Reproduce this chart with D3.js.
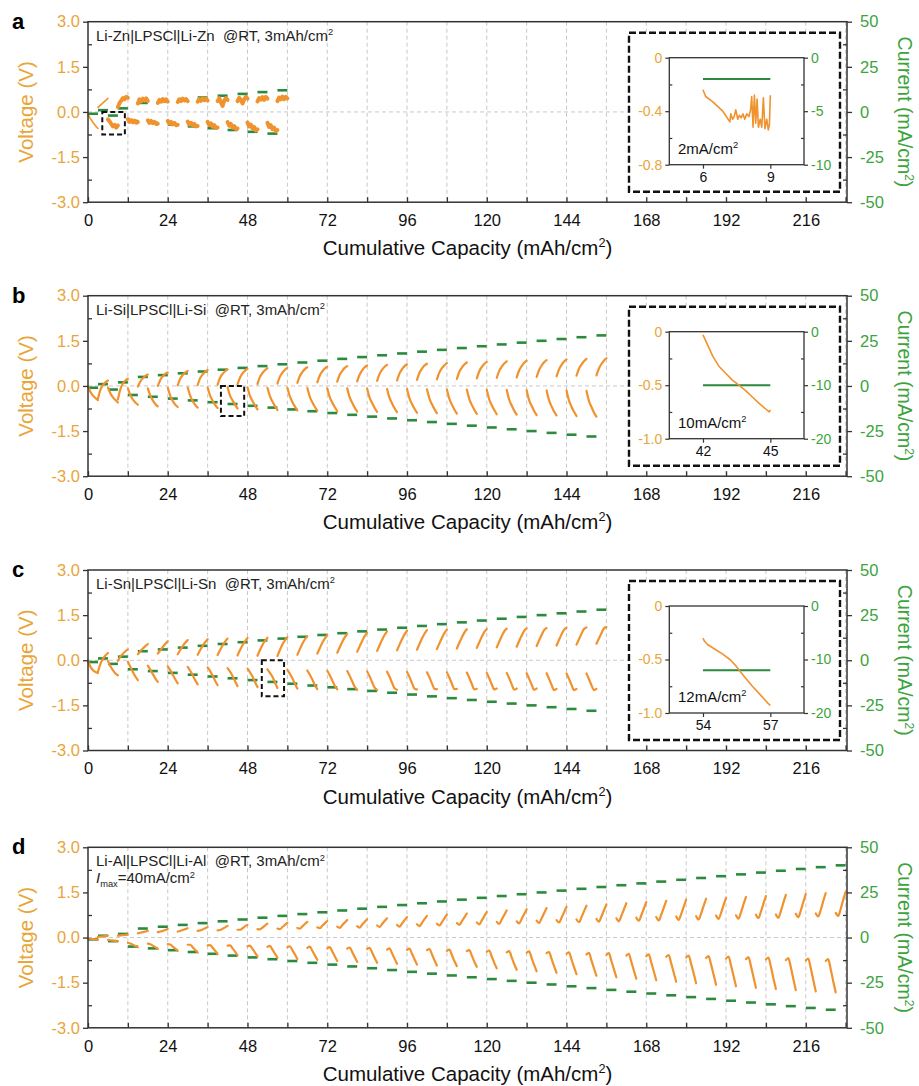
<!DOCTYPE html>
<html><head><meta charset="utf-8">
<script src="https://cdn.jsdelivr.net/npm/d3@7"></script>
<style>body{margin:0;background:#fff;} svg{display:block;font-family:"Liberation Sans",Arial,sans-serif;}</style>
</head><body><svg id="c" width="919" height="1086"></svg>
<script>
// ---------------- DATA ----------------
// current per cycle (mA/cm2); each cycle = discharge 3 mAh/cm2 then charge 3 mAh/cm2
const currents = [1,2,5,6,7,8,9,10,11,12,13,14,15,16,17,18,19,20,21,22,23,24,25,26,27,28,29,30,31,32,33,34,35,36,37,38,39,40];
const xTickLabels = [0,24,48,72,96,120,144,168,192,216];
const xGridValues = [12,24,36,48,60,72,84,96,108,120,132,144,156,168,180,192,204,216,228];
const vTicks = [3,1.5,0,-1.5,-3];
const vMinor = [2.25,0.75,-0.75,-2.25];
const iTicks = [50,25,0,-25,-50];
const iMinor = [37.5,12.5,-12.5,-37.5];

// voltage samples per half cycle (V), evenly spaced over the 3 mAh/cm2 step
const aDischarge = [
 [-0.08,-0.18,-0.27,-0.35,-0.42,-0.49,-0.55],
 [-0.25,-0.31,-0.4,-0.48,-0.43,-0.52,-0.45],
 [-0.24,-0.33,-0.27,-0.34,-0.29,-0.36,-0.34],
 [-0.28,-0.36,-0.3,-0.37,-0.33,-0.4,-0.39],
 [-0.3,-0.39,-0.33,-0.41,-0.36,-0.44,-0.43],
 [-0.32,-0.42,-0.36,-0.45,-0.4,-0.48,-0.47],
 [-0.33,-0.44,-0.38,-0.49,-0.44,-0.53,-0.52],
 [-0.34,-0.46,-0.4,-0.52,-0.47,-0.57,-0.55],
 [-0.35,-0.48,-0.42,-0.55,-0.5,-0.61,-0.58],
 [-0.36,-0.5,-0.44,-0.57,-0.52,-0.64,-0.6]
];
const aCharge = [
 [0.15,0.2,0.25,0.3,0.35,0.4,0.45],
 [0.16,0.3,0.38,0.46,0.42,0.5,0.47],
 [0.28,0.42,0.35,0.44,0.38,0.45,0.36],
 [0.3,0.4,0.34,0.43,0.36,0.42,0.34],
 [0.33,0.42,0.36,0.44,0.38,0.43,0.36],
 [0.34,0.43,0.37,0.45,0.39,0.44,0.38],
 [0.36,0.46,0.32,0.2,0.38,0.46,0.4],
 [0.36,0.47,0.4,0.28,0.42,0.5,0.44],
 [0.35,0.46,0.41,0.49,0.4,0.5,0.44],
 [0.36,0.48,0.42,0.51,0.42,0.5,0.45]
];
const bDischarge = [
 [-0.02,-0.2,-0.32,-0.4,-0.47],[-0.05,-0.25,-0.38,-0.47,-0.55],[-0.08,-0.3,-0.45,-0.55,-0.62],
 [-0.08,-0.32,-0.48,-0.6,-0.68],[-0.06,-0.32,-0.5,-0.62,-0.7],[-0.05,-0.32,-0.5,-0.63,-0.72],
 [-0.05,-0.32,-0.49,-0.63,-0.73],[-0.04,-0.32,-0.48,-0.62,-0.75],[-0.05,-0.33,-0.5,-0.65,-0.78],
 [-0.06,-0.34,-0.52,-0.67,-0.8],[-0.06,-0.35,-0.53,-0.68,-0.81],[-0.07,-0.36,-0.54,-0.69,-0.82],
 [-0.08,-0.37,-0.55,-0.7,-0.84],[-0.08,-0.38,-0.56,-0.72,-0.85],[-0.09,-0.39,-0.57,-0.73,-0.86],
 [-0.1,-0.4,-0.58,-0.74,-0.87],[-0.1,-0.41,-0.6,-0.76,-0.89],[-0.11,-0.42,-0.61,-0.77,-0.9],
 [-0.12,-0.43,-0.62,-0.78,-0.92],[-0.12,-0.44,-0.63,-0.79,-0.93],[-0.13,-0.45,-0.64,-0.8,-0.94],
 [-0.13,-0.46,-0.65,-0.82,-0.95],[-0.14,-0.47,-0.66,-0.83,-0.97],[-0.15,-0.48,-0.68,-0.85,-0.98],
 [-0.15,-0.49,-0.69,-0.86,-1.0],[-0.16,-0.5,-0.7,-0.88,-1.02]
];
const bCharge = [
 [-0.42,-0.12,0.03,0.12,0.18],[-0.45,-0.1,0.08,0.18,0.24],[-0.02,0.15,0.26,0.33,0.38],
 [0.0,0.2,0.32,0.4,0.45],[0.02,0.24,0.36,0.44,0.5],[0.03,0.26,0.38,0.47,0.53],
 [0.04,0.27,0.4,0.49,0.55],[0.05,0.28,0.42,0.51,0.57],[0.06,0.3,0.43,0.52,0.59],
 [0.08,0.31,0.44,0.54,0.6],[0.1,0.33,0.46,0.56,0.62],[0.12,0.35,0.48,0.58,0.64],
 [0.14,0.37,0.5,0.6,0.66],[0.15,0.38,0.52,0.62,0.68],[0.17,0.4,0.54,0.64,0.7],
 [0.18,0.42,0.56,0.66,0.72],[0.2,0.44,0.58,0.68,0.74],[0.22,0.45,0.59,0.69,0.76],
 [0.23,0.47,0.61,0.71,0.78],[0.25,0.49,0.63,0.73,0.8],[0.27,0.5,0.64,0.75,0.82],
 [0.28,0.52,0.66,0.77,0.84],[0.3,0.53,0.68,0.79,0.86],[0.32,0.55,0.7,0.81,0.88],
 [0.34,0.57,0.71,0.82,0.9],[0.35,0.58,0.73,0.84,0.92]
];
const cDischarge = [
 [-0.02,-0.22,-0.33,-0.39,-0.42],[-0.02,-0.2,-0.33,-0.44,-0.5],[-0.05,-0.22,-0.39,-0.54,-0.66],
 [-0.18,-0.31,-0.46,-0.6,-0.72],[-0.2,-0.33,-0.48,-0.63,-0.77],[-0.22,-0.35,-0.5,-0.66,-0.8],
 [-0.24,-0.36,-0.51,-0.68,-0.83],[-0.26,-0.38,-0.52,-0.7,-0.86],[-0.28,-0.4,-0.54,-0.72,-0.89],
 [-0.3,-0.42,-0.55,-0.74,-0.92],[-0.32,-0.45,-0.6,-0.78,-0.94],[-0.34,-0.48,-0.64,-0.82,-0.96],
 [-0.35,-0.5,-0.67,-0.85,-0.97],[-0.36,-0.52,-0.7,-0.88,-0.98],[-0.37,-0.54,-0.73,-0.91,-0.99],
 [-0.38,-0.55,-0.75,-0.93,-0.98],[-0.39,-0.56,-0.76,-0.94,-0.97],[-0.4,-0.57,-0.77,-0.95,-0.96],
 [-0.4,-0.58,-0.78,-0.96,-0.95],[-0.41,-0.59,-0.79,-0.97,-0.95],[-0.42,-0.6,-0.8,-0.97,-0.94],
 [-0.42,-0.6,-0.8,-0.98,-0.94],[-0.43,-0.61,-0.81,-0.98,-0.94],[-0.43,-0.62,-0.82,-0.99,-0.95],
 [-0.44,-0.62,-0.82,-0.99,-0.95],[-0.44,-0.63,-0.83,-0.99,-0.95]
];
const cCharge = [
 [-0.38,-0.12,0.05,0.16,0.24],[-0.02,0.12,0.22,0.3,0.36],[0.2,0.3,0.39,0.47,0.54],
 [0.22,0.33,0.44,0.54,0.63],[0.2,0.34,0.47,0.58,0.67],[0.18,0.34,0.48,0.6,0.7],
 [0.17,0.34,0.49,0.62,0.72],[0.16,0.34,0.5,0.63,0.74],[0.15,0.34,0.51,0.64,0.75],
 [0.14,0.34,0.52,0.66,0.77],[0.18,0.37,0.55,0.69,0.8],[0.22,0.4,0.58,0.72,0.84],
 [0.25,0.43,0.61,0.76,0.88],[0.28,0.46,0.64,0.8,0.92],[0.31,0.5,0.68,0.84,0.96],
 [0.33,0.52,0.7,0.86,0.98],[0.35,0.54,0.72,0.88,1.0],[0.37,0.56,0.74,0.9,1.02],
 [0.39,0.58,0.76,0.92,1.03],[0.41,0.6,0.78,0.94,1.04],[0.43,0.62,0.8,0.96,1.05],
 [0.45,0.64,0.82,0.98,1.06],[0.47,0.66,0.84,1.0,1.07],[0.49,0.68,0.86,1.02,1.08],
 [0.52,0.7,0.88,1.04,1.09],[0.55,0.72,0.9,1.06,1.1]
];
const dDischarge = [
 [-0.03,-0.04,-0.05,-0.06,-0.07],[-0.08,-0.09,-0.1,-0.11,-0.12],[-0.18,-0.2,-0.24,-0.28,-0.32],
 [-0.2,-0.22,-0.27,-0.32,-0.38],[-0.22,-0.23,-0.3,-0.37,-0.44],[-0.24,-0.24,-0.32,-0.41,-0.5],
 [-0.26,-0.25,-0.34,-0.44,-0.55],[-0.27,-0.26,-0.36,-0.47,-0.59],[-0.29,-0.27,-0.38,-0.5,-0.63],
 [-0.31,-0.28,-0.4,-0.53,-0.67],[-0.32,-0.29,-0.42,-0.56,-0.71],[-0.34,-0.3,-0.44,-0.59,-0.74],
 [-0.36,-0.32,-0.46,-0.62,-0.78],[-0.37,-0.33,-0.48,-0.65,-0.81],[-0.38,-0.34,-0.5,-0.67,-0.84],
 [-0.4,-0.36,-0.52,-0.7,-0.87],[-0.41,-0.37,-0.54,-0.72,-0.9],[-0.42,-0.38,-0.56,-0.75,-0.93],
 [-0.44,-0.4,-0.58,-0.78,-0.95],[-0.45,-0.42,-0.6,-0.8,-0.97],[-0.47,-0.43,-0.63,-0.84,-1.02],
 [-0.49,-0.45,-0.66,-0.88,-1.07],[-0.5,-0.46,-0.68,-0.91,-1.12],[-0.52,-0.48,-0.71,-0.95,-1.17],
 [-0.54,-0.49,-0.73,-0.98,-1.22],[-0.56,-0.51,-0.76,-1.02,-1.27],[-0.58,-0.52,-0.78,-1.05,-1.32],
 [-0.6,-0.54,-0.81,-1.09,-1.37],[-0.62,-0.56,-0.83,-1.12,-1.42],[-0.64,-0.58,-0.86,-1.16,-1.47],
 [-0.66,-0.6,-0.88,-1.19,-1.52],[-0.68,-0.62,-0.9,-1.23,-1.57],[-0.7,-0.63,-0.93,-1.27,-1.62],
 [-0.72,-0.65,-0.95,-1.31,-1.67],[-0.73,-0.67,-0.97,-1.35,-1.71],[-0.75,-0.68,-0.99,-1.38,-1.75],
 [-0.76,-0.7,-1.02,-1.41,-1.79],[-0.78,-0.72,-1.05,-1.45,-1.82]
];
const dCharge = [
 [0.02,0.03,0.04,0.05,0.06],[0.06,0.07,0.08,0.09,0.1],[0.14,0.16,0.18,0.2,0.22],
 [0.18,0.2,0.22,0.25,0.28],[0.2,0.22,0.25,0.28,0.31],[0.22,0.24,0.27,0.31,0.35],
 [0.24,0.25,0.29,0.34,0.39],[0.26,0.26,0.31,0.37,0.42],[0.28,0.27,0.33,0.4,0.46],
 [0.3,0.28,0.35,0.42,0.49],[0.32,0.3,0.37,0.45,0.52],[0.34,0.31,0.39,0.47,0.55],
 [0.36,0.32,0.41,0.5,0.58],[0.38,0.33,0.43,0.52,0.61],[0.4,0.35,0.45,0.55,0.64],
 [0.42,0.36,0.47,0.58,0.68],[0.44,0.38,0.49,0.61,0.72],[0.46,0.4,0.51,0.64,0.76],
 [0.48,0.42,0.54,0.67,0.8],[0.5,0.44,0.57,0.71,0.85],[0.52,0.45,0.6,0.75,0.9],
 [0.54,0.47,0.62,0.78,0.94],[0.56,0.48,0.64,0.81,0.98],[0.58,0.5,0.66,0.84,1.02],
 [0.6,0.51,0.68,0.87,1.06],[0.62,0.53,0.7,0.9,1.1],[0.64,0.54,0.72,0.93,1.14],
 [0.66,0.56,0.74,0.96,1.18],[0.68,0.57,0.76,0.99,1.22],[0.7,0.59,0.78,1.02,1.26],
 [0.71,0.6,0.8,1.05,1.29],[0.73,0.62,0.82,1.08,1.32],[0.74,0.63,0.84,1.1,1.35],
 [0.76,0.65,0.86,1.13,1.38],[0.77,0.66,0.88,1.16,1.42],[0.79,0.68,0.9,1.18,1.45],
 [0.8,0.7,0.92,1.21,1.48],[0.82,0.72,0.95,1.25,1.52]
];

// insets: zoomed discharge step [capacity, voltage]
const insetAVoltage = [[6,-0.24],[6.12,-0.29],[6.44,-0.33],[6.88,-0.4],[7.2,-0.48],[7.24,-0.42],[7.32,-0.46],[7.39,-0.44],[7.46,-0.39],[7.55,-0.46],[7.62,-0.43],[7.7,-0.45],[7.78,-0.42],[7.86,-0.46],[7.95,-0.42],[8.05,-0.44],[8.12,-0.39],[8.17,-0.29],[8.23,-0.52],[8.29,-0.28],[8.35,-0.49],[8.41,-0.31],[8.47,-0.52],[8.55,-0.46],[8.62,-0.52],[8.69,-0.3],[8.76,-0.53],[8.84,-0.46],[8.91,-0.54],[8.96,-0.5],[9,-0.28]];
const insetBVoltage = [[42,-0.03],[42.2,-0.12],[42.44,-0.23],[42.7,-0.32],[43.02,-0.39],[43.3,-0.45],[43.6,-0.5],[43.9,-0.55],[44.2,-0.61],[44.5,-0.67],[44.78,-0.72],[44.95,-0.75],[45,-0.73]];
const insetCVoltage = [[54,-0.3],[54.07,-0.33],[54.2,-0.36],[54.5,-0.4],[54.88,-0.45],[55.2,-0.5],[55.47,-0.56],[55.8,-0.65],[56.2,-0.75],[56.6,-0.84],[56.9,-0.91],[57,-0.93]];
const insetCurrents = [-2,-10,-12];
const insetXTicks = [[6,9],[42,45],[54,57]];
const insetVTicks = [[0,-0.4,-0.8],[0,-0.5,-1.0]];
const insetVTickLabels = [["0","-0.4","-0.8"],["0","-0.5","-1.0"]];
const insetITicks = [[0,-5,-10],[0,-10,-20]];
const insetRateLabels = ["2mA/cm","10mA/cm","12mA/cm"];
const panelTitles = ["Li-Zn|LPSCl|Li-Zn  @RT, 3mAh/cm","Li-Si|LPSCl|Li-Si  @RT, 3mAh/cm","Li-Sn|LPSCl|Li-Sn  @RT, 3mAh/cm","Li-Al|LPSCl|Li-Al  @RT, 3mAh/cm"];
const panelLetters = ["a","b","c","d"];
// zoom-region markers in main plots [x0,x1,v0,v1]
const zoomBoxes = [[4.3,11.1,-0.75,0],[40,47,-1.0,0],[52.3,59,-1.2,0]];

// ---------------- DRAWING ----------------
const svg = d3.select('#c');
const L = 88, R = 847, PH = 180.5;
const tops = [21.7, 295.7, 570, 847.3];
const ORANGE = '#F0922E', GOLD = '#E9A53A', GREEN = '#2B8A3E', GREEN_T = '#3DA33D', AX = '#333';
const FONT = '"Liberation Sans",Arial,sans-serif';
const TICK_FS = 16.5, TITLE_FS = 20.5, RTITLE_FS = 19.5;
const x = d3.scaleLinear().domain([0, 228.4]).range([L, R]);

const panels = [
  {dis:aDischarge, chg:aCharge, noisy:true},
  {dis:bDischarge, chg:bCharge},
  {dis:cDischarge, chg:cCharge},
  {dis:dDischarge, chg:dCharge}
];

function rich(sel, parts, base) {
  parts.forEach(p => {
    const t = sel.append('tspan').text(p.t);
    if (p.sup) t.attr('font-size', base*0.62).attr('dy', -base*0.38);
    if (p.sub) t.attr('font-size', base*0.62).attr('dy', base*0.22);
    if (p.after) t.attr('dy', p.after);
    if (p.italic) t.attr('font-style', 'italic');
  });
}

panels.forEach((p, pi) => {
  const top = tops[pi], bot = top + PH;
  const g = svg.append('g');
  const yV = d3.scaleLinear().domain([-3, 3]).range([bot, top]);
  const yI = d3.scaleLinear().domain([-50, 50]).range([bot, top]);

  // grid
  g.selectAll('line.vg').data(xGridValues).join('line')
    .attr('x1', d => x(d)).attr('x2', d => x(d)).attr('y1', top).attr('y2', bot)
    .attr('stroke', '#c8c8c8').attr('stroke-width', 1).attr('stroke-dasharray', '4,3');
  g.append('line').attr('x1', L).attr('x2', R).attr('y1', yV(0)).attr('y2', yV(0))
    .attr('stroke', '#c8c8c8').attr('stroke-width', 1).attr('stroke-dasharray', '4,3');

  const n = p.dis.length;
  // current steps
  const segs = [];
  for (let i = 0; i < n; i++) {
    segs.push({x0: 6*i, x1: 6*i+3, I: -currents[i]});
    segs.push({x0: 6*i+3, x1: 6*i+6, I: currents[i]});
  }
  g.selectAll('line.cur').data(segs).join('line')
    .attr('x1', d => x(d.x0)).attr('x2', d => x(d.x1)).attr('y1', d => yI(d.I)).attr('y2', d => yI(d.I))
    .attr('stroke', GREEN).attr('stroke-width', 2.6);

  // voltage curves
  const halfs = [];
  for (let i = 0; i < n; i++) {
    [[p.dis[i], 6*i], [p.chg[i], 6*i+3]].forEach(([arr, x0]) => {
      halfs.push({i, pts: arr.map((v, k) => [x0 + k*3/(arr.length-1), v])});
    });
  }
  const line = d3.line().x(d => x(d[0])).y(d => yV(d[1]))
    .curve(p.noisy ? d3.curveLinear : d3.curveMonotoneX);
  g.selectAll('path.v').data(halfs).join('path')
    .attr('d', d => line(d.pts)).attr('fill', 'none').attr('stroke', ORANGE)
    .attr('stroke-width', d => p.noisy ? (d.i === 0 ? 1.6 : 4) : 2.2)
    .attr('stroke-linejoin', 'round').attr('stroke-linecap', 'round');

  // zoom marker
  if (pi < 3) {
    const zb = zoomBoxes[pi];
    g.append('rect').attr('x', x(zb[0])).attr('y', yV(zb[3])).attr('width', x(zb[1]) - x(zb[0]))
      .attr('height', yV(zb[2]) - yV(zb[3])).attr('fill', 'none').attr('stroke', '#111')
      .attr('stroke-width', 2).attr('stroke-dasharray', '5,3');
  }

  // axes
  const ax = g.append('g').attr('transform', `translate(0,${bot})`)
    .call(d3.axisBottom(x).tickValues([0].concat(xGridValues)).tickSize(-5).tickPadding(12)
      .tickFormat(d => xTickLabels.includes(d) ? d : ''));
  const ay = g.append('g').attr('transform', `translate(${L},0)`)
    .call(d3.axisLeft(yV).tickValues(vTicks).tickSize(5).tickPadding(3).tickFormat(d => d.toFixed(1)));
  const ay2 = g.append('g').attr('transform', `translate(${L},0)`)
    .call(d3.axisLeft(yV).tickValues(vMinor).tickSize(-4).tickFormat(''));
  const ar = g.append('g').attr('transform', `translate(${R},0)`)
    .call(d3.axisRight(yI).tickValues(iTicks).tickSize(5).tickPadding(8).tickFormat(d => String(d)));
  const ar2 = g.append('g').attr('transform', `translate(${R},0)`)
    .call(d3.axisRight(yI).tickValues(iMinor).tickSize(-4).tickFormat(''));
  [ax, ay, ay2, ar, ar2].forEach(a => {
    a.select('.domain').remove();
    a.selectAll('line').attr('stroke', AX).attr('stroke-width', 1.3);
    a.selectAll('text').attr('font-size', TICK_FS).attr('font-family', FONT);
  });
  ax.selectAll('text').attr('fill', '#111');
  ay.selectAll('text').attr('fill', GOLD);
  ar.selectAll('text').attr('fill', GREEN_T);
  g.append('rect').attr('x', L).attr('y', top).attr('width', R - L).attr('height', PH)
    .attr('fill', 'none').attr('stroke', AX).attr('stroke-width', 1.5);

  // axis titles
  rich(g.append('text').attr('x', (L+R)/2).attr('y', bot + 53).attr('text-anchor', 'middle')
    .attr('font-size', TITLE_FS).attr('fill', '#111'),
    [{t:'Cumulative Capacity (mAh/cm'},{t:'2',sup:true},{t:')',after:TITLE_FS*0.38}], TITLE_FS);
  g.append('text').attr('transform', `translate(33,${(top+bot)/2}) rotate(-90)`)
    .attr('text-anchor', 'middle').attr('font-size', TITLE_FS).attr('fill', GOLD).text('Voltage (V)');
  rich(g.append('text').attr('transform', `translate(898,${(top+bot)/2}) rotate(90)`)
    .attr('text-anchor', 'middle').attr('font-size', RTITLE_FS).attr('fill', GREEN_T),
    [{t:'Current (mA/cm'},{t:'2',sup:true},{t:')',after:RTITLE_FS*0.38}], RTITLE_FS);

  // letter + annotation
  g.append('text').attr('x', 12).attr('y', top + 7).attr('font-size', 22).attr('font-weight', 'bold')
    .attr('fill', '#000').text(panelLetters[pi]);
  rich(g.append('text').attr('x', 96).attr('y', top + 19).attr('font-size', 15).attr('fill', '#222')
    .style('white-space', 'pre'), [{t: panelTitles[pi]},{t:'2',sup:true}], 15);
  if (pi === 3) {
    rich(g.append('text').attr('x', 96).attr('y', top + 36).attr('font-size', 15).attr('fill', '#222'),
      [{t:'I',italic:true},{t:'max',sub:true},{t:'=40mA/cm',after:-15*0.22},{t:'2',sup:true}], 15);
  }

  // inset
  if (pi < 3) {
    const bx = 629, by = top + 11, bw = 211, bh = 159;
    g.append('rect').attr('x', bx).attr('y', by).attr('width', bw).attr('height', bh)
      .attr('fill', '#fff').attr('stroke', '#111').attr('stroke-width', 2.4).attr('stroke-dasharray', '7,3');
    const il = 669.3, ir = 804, it = top + 36, ib = top + 143;
    const xt = insetXTicks[pi];
    const ix = d3.scaleLinear().domain([xt[0]-1.5, xt[1]+1.5]).range([il, ir]);
    const vt = insetVTicks[pi === 0 ? 0 : 1];
    const vtl = insetVTickLabels[pi === 0 ? 0 : 1];
    const it_ = insetITicks[pi === 0 ? 0 : 1];
    const iyV = d3.scaleLinear().domain([vt[2], 0]).range([ib, it]);
    const iyI = d3.scaleLinear().domain([it_[2], 0]).range([ib, it]);
    const vmid = [(vt[0]+vt[1])/2, (vt[1]+vt[2])/2];
    const imid = [(it_[0]+it_[1])/2, (it_[1]+it_[2])/2];
    const ig = g.append('g');
    const iax = ig.append('g').attr('transform', `translate(0,${ib})`)
      .call(d3.axisBottom(ix).tickValues(xt).tickSize(4).tickPadding(3).tickFormat(d => d));
    const iay = ig.append('g').attr('transform', `translate(${il},0)`)
      .call(d3.axisLeft(iyV).tickValues(vt).tickSize(4).tickPadding(3).tickFormat((d,k) => vtl[k]));
    const iay2 = ig.append('g').attr('transform', `translate(${il},0)`)
      .call(d3.axisLeft(iyV).tickValues(vmid).tickSize(-3).tickFormat(''));
    const iar = ig.append('g').attr('transform', `translate(${ir},0)`)
      .call(d3.axisRight(iyI).tickValues(it_).tickSize(4).tickPadding(3).tickFormat(d => String(d)));
    const iar2 = ig.append('g').attr('transform', `translate(${ir},0)`)
      .call(d3.axisRight(iyI).tickValues(imid).tickSize(-3).tickFormat(''));
    [iax, iay, iay2, iar, iar2].forEach(a => {
      a.select('.domain').remove();
      a.selectAll('line').attr('stroke', AX).attr('stroke-width', 1.2);
      a.selectAll('text').attr('font-size', 14).attr('font-family', FONT);
    });
    iax.selectAll('text').attr('fill', '#111');
    iay.selectAll('text').attr('fill', GOLD);
    iar.selectAll('text').attr('fill', GREEN_T);
    ig.append('rect').attr('x', il).attr('y', it).attr('width', ir - il).attr('height', ib - it)
      .attr('fill', 'none').attr('stroke', AX).attr('stroke-width', 1.3);
    ig.append('line').attr('x1', ix(xt[0])).attr('x2', ix(xt[1]))
      .attr('y1', iyI(insetCurrents[pi])).attr('y2', iyI(insetCurrents[pi]))
      .attr('stroke', GREEN).attr('stroke-width', 2);
    const idata = [insetAVoltage, insetBVoltage, insetCVoltage][pi];
    const iline = d3.line().x(d => ix(d[0])).y(d => iyV(d[1]));
    ig.append('path').attr('d', iline(idata)).attr('fill', 'none').attr('stroke', ORANGE)
      .attr('stroke-width', 1.6).attr('stroke-linejoin', 'round');
    rich(ig.append('text').attr('x', 678).attr('y', ib - 11).attr('font-size', 15).attr('fill', '#111'),
      [{t: insetRateLabels[pi]},{t:'2',sup:true}], 15);
  }
});
</script></body></html>
